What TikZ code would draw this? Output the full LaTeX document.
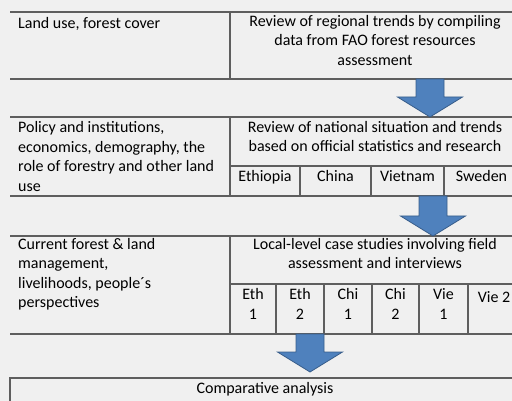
\documentclass[tikz,border=0pt]{standalone}
\usepackage{fontspec}
\setmainfont{Carlito}
\usepackage{tikz}
\usepackage{xcolor}
\usetikzlibrary{calc,positioning}

\definecolor{bggray}{HTML}{F0F0F0}
\definecolor{rulegray}{HTML}{5E5E5E}
\definecolor{arrowblue}{HTML}{4F81BD}
\definecolor{arrowedge}{HTML}{385D8A}
\newcommand{\cellfont}{\fontsize{16}{19.6}\selectfont}
% x of the arrow, row it leaves, point it reaches
\newcommand{\blockarrow}[3]{%
  \filldraw[bigarrow] (#1-14,0 |- #2.south) -- (#1+14,0 |- #2.south)
    -- ($(#1,0 |- #3)+(14,-20)$) -- ($(#1,0 |- #3)+(32.5,-20)$)
    -- (#1,0 |- #3) -- ($(#1,0 |- #3)+(-32.5,-20)$)
    -- ($(#1,0 |- #3)+(-14,-20)$) -- cycle;}

\begin{document}
\begin{tikzpicture}[x=1pt,y=-1pt,
  rowbox/.style={rectangle,minimum width=512pt,anchor=north west,inner sep=0pt,outer sep=0pt},
  rule/.style={draw=rulegray,line width=1.1pt},
  txt/.style={inner sep=0pt,font=\cellfont,text=black,execute at begin node=\strut},
  bigarrow/.style={fill=arrowblue,draw=arrowedge,line width=0.8pt,line join=miter}]

  \useasboundingbox (0,0) rectangle (512,401);
  \clip (0,0) rectangle (512,401);
  \fill[bggray] (0,0) rectangle (512,401);

  % the three rows and the last box
  \node[rowbox,minimum height=67pt] (land) at (10,12) {};
  \node[rowbox,minimum height=79pt] (policy) at (10,117) {};
  \node[rowbox,minimum height=98pt] (local) at (10,236) {};
  \node[rowbox,minimum height=40pt] (comp) at (10,378) {};

  \foreach \r in {land,policy,local}{
    \draw[rule] (\r.north west) -- (\r.north east) (\r.south west) -- (\r.south east);
    \draw[rule] (230,0 |- \r.north) -- (230,0 |- \r.south);
  }
  \draw[rule] (comp.south west) -- (comp.north west) -- (comp.north east);

  \draw[rule] (230,166) -- (policy.east |- 0,166);
  \foreach \x in {300,371,444}
    \draw[rule] (\x,166) -- (\x,0 |- policy.south);
  \draw[rule] (230,284) -- (local.east |- 0,284);
  \foreach \x in {276,324,372,419,468}
    \draw[rule] (\x,284) -- (\x,0 |- local.south);

  % texts
  \node[txt,anchor=north west] (landtxt) at (18,15) {Land use, forest cover};
  \node[txt,anchor=north,align=center] (landrev) at (375,15)
    {Review of regional trends by compiling\\data from FAO forest resources\\assessment};

  \node[txt,anchor=north west,align=left] (poltxt) at (18,121.3)
    {Policy and institutions,\\economics, demography, the\\role of forestry and other land\\use};
  \node[txt,anchor=north,align=center] (polrev) at (375,120.8)
    {Review of national situation and trends\\based on official statistics and research};
  \foreach \x/\n/\t in {265/eth/Ethiopia,335.5/chi/China,407.5/vie/Vietnam,481.5/swe/Sweden}
    \node[txt,anchor=base] (\n) at (\x,182) {\t};

  \node[txt,anchor=north west,align=left] (loctxt) at (18,237.8)
    {Current forest \& land\\management,\\livelihoods, people´s\\perspectives};
  \node[txt,anchor=north,align=center] (locrev) at (375,237.8)
    {Local-level case studies involving field\\assessment and interviews};
  \foreach \x/\n/\a/\b in {253/ethA/Eth/1,300/ethB/Eth/2,348/chiA/Chi/1,395.5/chiB/Chi/2,443.5/vieA/Vie/1}
    \node[txt,anchor=north,align=center] (\n) at (\x,288.5) {\a\\\b};
  \node[txt,anchor=base] (vieB) at (494,302) {Vie 2};

  \node[txt,anchor=base] (comptxt) at (265,393) {Comparative analysis};

  % arrows between the rows
  \coordinate (compin) at (310,372);
  \blockarrow{430}{land}{policy.north}
  \blockarrow{433}{policy}{local.north}
  \blockarrow{310}{local}{compin}

\end{tikzpicture}
\end{document}
